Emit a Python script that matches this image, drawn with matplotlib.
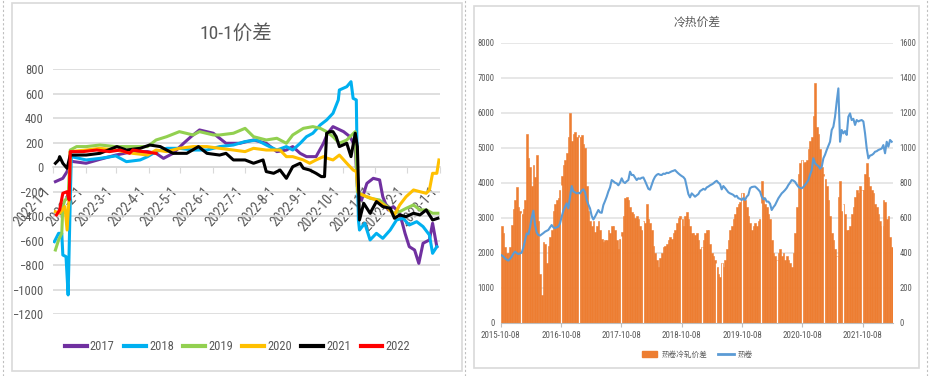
import numpy as np
import pandas as pd
import matplotlib
matplotlib.use("Agg")
import matplotlib.pyplot as plt
import matplotlib.dates as mdates
from matplotlib.patches import Rectangle, Patch
from matplotlib.lines import Line2D

plt.rcParams['font.family'] = ['Roboto Condensed', 'Noto Sans CJK SC', 'DejaVu Sans']

W, H = 931, 376
GRID = "#D9D9D9"
TXT = "#595959"
FS = 9

# ---------------- left chart: 10-1 spread by year (day offset from 1 Jan) ----------------
year_labels = ["2017", "2018", "2019", "2020", "2021", "2022"]
year_colors = ["#7030A0", "#00B0F0", "#92D050", "#FFC000", "#000000", "#FF0000"]

d2017 = [2, 9, 13, 16, 31, 44, 59, 75, 89, 97, 104, 113, 123, 130, 138, 151, 163, 176, 189, 201,
         211, 220, 226, 233, 239, 248, 255, 259, 264, 274, 280, 285, 287, 291, 296, 302, 308, 311,
         316, 321, 327, 332, 336, 341, 345, 349, 355, 358, 362]
v2017 = [-117, -90, -35, 50, 33, 65, 100, 128, 128, 114, 73, 114, 196, 250, 305, 278, 196, 196, 223, 196,
         128, 141, 169, 114, 87, 87, 196, 278, 332, 291, 250, 169, -158, -267, -131, -90, -103, -240,
         -348, -321, -375, -539, -648, -675, -784, -620, -593, -457, -648]

d2018 = [1, 5, 8, 9, 12, 14, 16, 17, 31, 44, 59, 69, 82, 89, 97, 107, 119, 132, 145, 157, 170, 181,
         192, 201, 211, 220, 226, 233, 239, 245, 252, 258, 264, 269, 270, 277, 281, 283, 286, 287, 288,
         289, 294, 299, 305, 311, 318, 324, 330, 336, 343, 349, 355, 358, 362]
v2018 = [-607, -539, -539, -716, -729, -1042, -267, 87, 60, 73, 93, 46, 60, 87, 128, 155, 155, 141, 141,
         169, 182, 210, 223, 182, 141, 169, 141, 196, 250, 278, 346, 386, 441, 550, 631, 658, 699, 563,
         550, -49, -430, -512, -457, -593, -539, -580, -512, -430, -416, -471, -444, -484, -552, -702, -648]

d2019 = [2, 5, 8, 9, 11, 14, 16, 22, 31, 44, 59, 75, 89, 97, 107, 119, 132, 138, 151, 157, 170, 181,
         189, 201, 211, 220, 226, 236, 245, 252, 258, 264, 270, 277, 285, 287, 292, 299, 308, 315, 321,
         327, 333, 340, 346, 352, 358, 363]
v2019 = [-675, -593, -539, -321, -267, -253, 141, 169, 169, 182, 169, 169, 169, 223, 250, 291, 264, 291,
         264, 264, 278, 318, 250, 223, 237, 196, 264, 318, 332, 318, 291, 250, 196, 223, 291, -199, -226,
         -253, -267, -321, -375, -362, -335, -307, -348, -348, -375, -375]

d2020 = [2, 6, 11, 13, 15, 16, 31, 44, 59, 75, 89, 97, 107, 119, 132, 145, 157, 170, 181, 189, 201,
         214, 220, 226, 236, 242, 248, 255, 259, 264, 270, 277, 283, 286, 288, 296, 305, 314, 322, 327,
         333, 340, 346, 352, 355, 358, 362, 364]
v2020 = [-362, -375, -321, -512, -240, 128, 141, 155, 141, 114, 100, 141, 128, 155, 169, 169, 155, 141,
         128, 155, 141, 141, 87, 87, 60, 33, 60, 87, 73, 60, 100, 33, -22, -35, -212, -240, -267, -321,
         -389, -307, -240, -185, -199, -212, -185, -49, -49, 60]

d2021 = [2, 5, 6, 9, 13, 16, 31, 44, 60, 69, 82, 91, 101, 107, 113, 126, 137, 145, 157, 163, 170, 181,
         189, 198, 201, 208, 214, 220, 226, 233, 236, 242, 248, 253, 256, 258, 261, 264, 267, 270, 277,
         281, 285, 287, 289, 293, 299, 305, 311, 318, 322, 327, 333, 340, 346, 352, 358, 363]
v2021 = [33, 60, 87, 33, -8, 100, 100, 114, 169, 141, 155, 182, 169, 141, 114, 114, 169, 114, 100, 114,
         60, 60, 33, 60, -35, -49, -22, -90, 5, 33, -8, -22, -49, -76, -76, 278, 291, 291, 250, 169, 196,
         87, 278, 169, -430, -294, -375, -280, -321, -335, -416, -389, -403, -375, -389, -348, -430, -416]

d2022 = [3, 6, 9, 13, 15, 16, 28, 41, 53, 63, 72, 75, 85, 97]
v2022 = [-389, -348, -212, -199, -267, 128, 128, 141, 128, 141, 114, 141, 128, 114]

year_days = [d2017, d2018, d2019, d2020, d2021, d2022]
year_vals = [v2017, v2018, v2019, v2020, v2021, v2022]

# ---------------- right chart: HRC-CRC spread (bars) and HRC (line) ----------------
hc_spread = [
    2750, 2550, 2150, 1980, 2000, 2150, 2800, 3250, 3500, 3880,
    3300, 3200, 3100, 3250, 3500, 5400, 4700, 4450, 3900, 4500,
    4150, 4800, 2900, 1400, 800, 2300, 2250, 1700, 2200, 2450,
    2650, 3200, 3400, 3500, 3550, 3800, 4200, 4500, 4650, 4850,
    5300, 6000, 5200, 5400, 5450, 5300, 5350, 5300, 5350, 5100,
    5000, 3900, 3200, 2900, 2750, 2900, 2600, 2750, 2900, 2650,
    2400, 2300, 2350, 2350, 2650, 2550, 2750, 2750, 2650, 2350,
    2100, 2400, 2600, 3050, 3550, 3600, 3500, 3300, 3150, 3100,
    3000, 3050, 2950, 2750, 2650, 2900, 2850, 3400, 2950, 2850,
    2650, 2200, 2000, 1800, 1600, 1850, 2000, 2150, 2200, 2250,
    2350, 2450, 2400, 2550, 2650, 2850, 3000, 3050, 2950, 2750,
    3050, 3150, 2950, 2750, 2550, 2550, 2500, 2550, 2350, 2100,
    2150, 2350, 2550, 2650, 2650, 2250, 2000, 1900, 1800, 1600,
    1400, 1300, 1700, 1600, 1800, 2100, 2350, 2650, 2750, 2950,
    3100, 3300, 3400, 3450, 3700, 3700, 3500, 3300, 3050, 2850,
    2650, 2750, 2850, 2750, 2900, 2950, 4050, 3600, 3400, 3300,
    3100, 2950, 2350, 2000, 1900, 1800, 2000, 2100, 1900, 2000,
    1800, 1900, 1800, 1700, 1600, 2000, 2550, 3300, 4250, 4550,
    4650, 4550, 4600, 4650, 4950, 5200, 5300, 5900, 6850, 5600,
    5400, 4950, 4450, 4250, 4100, 3900, 3500, 3050, 2550, 2350,
    2100, 1900, 3600, 4050, 3200, 3400, 3100, 2650, 2650, 2750,
    3100, 3300, 3600, 3800, 3700, 3900, 3800, 3800, 4250, 4550,
    4150, 3900, 3800, 3700, 3400, 3300, 3100, 2900, 2750, 3500,
    3450, 2950, 3050, 2450, 2150]

hrc = [
    385, 378, 368, 360, 355, 365, 377, 395, 406, 398,
    392, 396, 400, 430, 470, 510, 505, 545, 600, 640,
    560, 515, 501, 498, 505, 512, 520, 525, 530, 545,
    558, 545, 540, 545, 549, 568, 606, 640, 663, 682,
    653, 720, 781, 749, 745, 739, 742, 739, 755, 762,
    745, 701, 675, 653, 610, 590, 606, 625, 644, 630,
    628, 672, 695, 720, 750, 773, 815, 808, 800, 796,
    785, 800, 825, 805, 798, 808, 815, 863, 844, 844,
    830, 815, 825, 822, 828, 830, 810, 787, 765, 760,
    787, 815, 834, 845, 850, 845, 844, 852, 850, 857,
    855, 860, 865, 868, 872, 862, 853, 845, 838, 832,
    820, 777, 735, 716, 739, 730, 720, 728, 735, 752,
    758, 765, 760, 773, 778, 785, 790, 796, 805, 811,
    800, 792, 762, 781, 770, 758, 745, 739, 735, 730,
    720, 725, 711, 708, 701, 712, 701, 720, 730, 768,
    775, 777, 778, 770, 760, 749, 720, 705, 711, 692,
    692, 680, 644, 660, 672, 692, 711, 725, 739, 748,
    758, 770, 787, 800, 815, 812, 805, 790, 777, 770,
    768, 775, 787, 800, 815, 845, 872, 940, 911, 901,
    895, 880, 890, 939, 960, 987, 1010, 1034, 1101, 1120,
    1177, 1263, 1339, 1034, 1101, 1082, 1095, 1073, 1177, 1196,
    1158, 1165, 1130, 1158, 1150, 1155, 1158, 1150, 1082, 996,
    939, 955, 958, 965, 977, 980, 987, 991, 995, 1015,
    968, 1034, 1006, 1044, 1034]

# holiday breaks that show as thin white gaps in the bars
holiday_gaps = ["2016-02-08", "2016-10-05", "2017-01-27", "2017-10-04", "2018-02-18",
                "2018-10-06", "2019-02-07", "2019-05-03", "2019-06-08", "2019-10-07",
                "2020-01-30", "2020-05-05", "2020-10-05", "2021-02-16", "2021-05-04",
                "2021-06-14", "2021-10-06", "2022-02-03"]
right_ticks = ["2015-10-08", "2016-10-08", "2017-10-08", "2018-10-08",
               "2019-10-08", "2020-10-08", "2021-10-08"]

right_dates = pd.date_range("2015-10-14", "2022-04-02", periods=len(hc_spread))


def px_rect(x0, y0, x1, y1):
    return [x0 / W, 1 - y1 / H, (x1 - x0) / W, (y1 - y0) / H]


fig = plt.figure(figsize=(W / 100, H / 100), dpi=100)
fig.patch.set_facecolor("white")

# panel frames and dashed separators
for (x0, y0, x1, y1) in [(12, 3, 462, 371), (474, 6, 919, 368)]:
    fig.add_artist(Rectangle((x0 / W, 1 - y1 / H), (x1 - x0) / W, (y1 - y0) / H,
                             transform=fig.transFigure, fill=False, ec="#D9D9D9", lw=1.2))
for xd in [2.5, 465, 927]:
    fig.add_artist(Line2D([xd / W, xd / W], [0, 1], transform=fig.transFigure,
                          color="#BFBFBF", lw=0.8, ls=(0, (2, 2))))

# ---------- left ----------
ax = fig.add_axes(px_rect(53.3, 69.3, 440, 314.3))
base = np.datetime64("2022-01-01")
for lab, col, dd, vv in zip(year_labels, year_colors, year_days, year_vals):
    x = base + np.array(dd).astype("timedelta64[D]")
    ax.plot(x, vv, color=col, lw=2.2, label=lab, solid_joinstyle="round", zorder=3)

ax.set_ylim(-1200, 800)
ax.set_yticks(np.arange(-1200, 801, 200))
ax.set_xlim(np.datetime64("2022-01-01"), np.datetime64("2023-01-01"))
month_ticks = pd.date_range("2022-01-01", "2023-01-01", freq="MS")
ax.set_xticks(month_ticks)
ax.set_xticklabels([f"{d.year}-{d.month}-{d.day}" for d in month_ticks])
ax.grid(axis="y", color=GRID, lw=1.2, zorder=0)
ax.set_axisbelow(True)
for s in ["top", "right", "left"]:
    ax.spines[s].set_visible(False)
ax.spines["bottom"].set_position(("data", 0))
ax.spines["bottom"].set_color(GRID)
ax.spines["bottom"].set_linewidth(1.2)
ax.tick_params(axis="y", length=0, pad=7, labelsize=FS, labelcolor=TXT)
ax.tick_params(axis="x", length=4, color=GRID, pad=8, labelsize=10, labelcolor=TXT)
for t in ax.get_xticklabels():
    t.set_rotation(48)
    t.set_ha("right")
    t.set_va("top")

fig.text(235.5 / W, 1 - 33 / H, "10-1价差", ha="center", va="center", fontsize=14, color=TXT)
leg = fig.legend(*ax.get_legend_handles_labels(), loc="center", bbox_to_anchor=(237.5 / W, 1 - 347 / H),
                 ncol=6, frameon=False, fontsize=FS, handlelength=1.75, handletextpad=0.25,
                 columnspacing=0.75, labelcolor=TXT)
for h in leg.get_lines():
    h.set_linewidth(3)

# ---------- right ----------
bx = fig.add_axes(px_rect(500.7, 42.7, 892.7, 322.7))
bx.bar(right_dates, hc_spread, width=10.3, color="#ED7D31", edgecolor="#ED7D31", linewidth=0.4, zorder=2)
gap_dates = pd.to_datetime(holiday_gaps)
gap_tops = np.interp(mdates.date2num(gap_dates), mdates.date2num(right_dates), hc_spread)
bx.vlines(gap_dates, 0, gap_tops, color="white", lw=0.9, zorder=2.5)
bx.set_ylim(0, 8000)
bx.set_yticks(np.arange(0, 8001, 1000))
bx.set_xlim(pd.Timestamp("2015-10-08"), pd.Timestamp("2022-04-08"))
bx.set_xticks(pd.to_datetime(right_ticks))
bx.set_xticklabels(right_ticks)
bx.grid(axis="y", color="#E3E3E3", lw=1.2, zorder=0)
bx.set_axisbelow(True)
for s in ["top", "right", "left"]:
    bx.spines[s].set_visible(False)
bx.spines["bottom"].set_color("#BFBFBF")
bx.tick_params(axis="y", length=0, pad=4.5, labelsize=6.2, labelcolor=TXT)
bx.tick_params(axis="x", length=3, color="#BFBFBF", pad=3, labelsize=6.5, labelcolor=TXT)

bx2 = bx.twinx()
bx2.plot(right_dates, hrc, color="#5B9BD5", lw=1.5, zorder=3)
bx2.set_ylim(0, 1600)
bx2.set_yticks(np.arange(0, 1601, 200))
for s in ["top", "right", "left", "bottom"]:
    bx2.spines[s].set_visible(False)
bx2.tick_params(axis="y", length=0, pad=5, labelsize=6.2, labelcolor=TXT)

fig.text(697 / W, 1 - 22 / H, "冷热价差", ha="center", va="center", fontsize=8.5, color=TXT)
fig.legend([Patch(color="#ED7D31"), Line2D([], [], color="#5B9BD5", lw=2)], ["热卷冷轧价差", "热卷"],
           loc="center", bbox_to_anchor=(697.5 / W, 1 - 354 / H), ncol=2, frameon=False,
           fontsize=5.5, handlelength=2.0, handletextpad=0.5, columnspacing=1.5, labelcolor=TXT)

fig.savefig("out.png", dpi=100, facecolor="white")
